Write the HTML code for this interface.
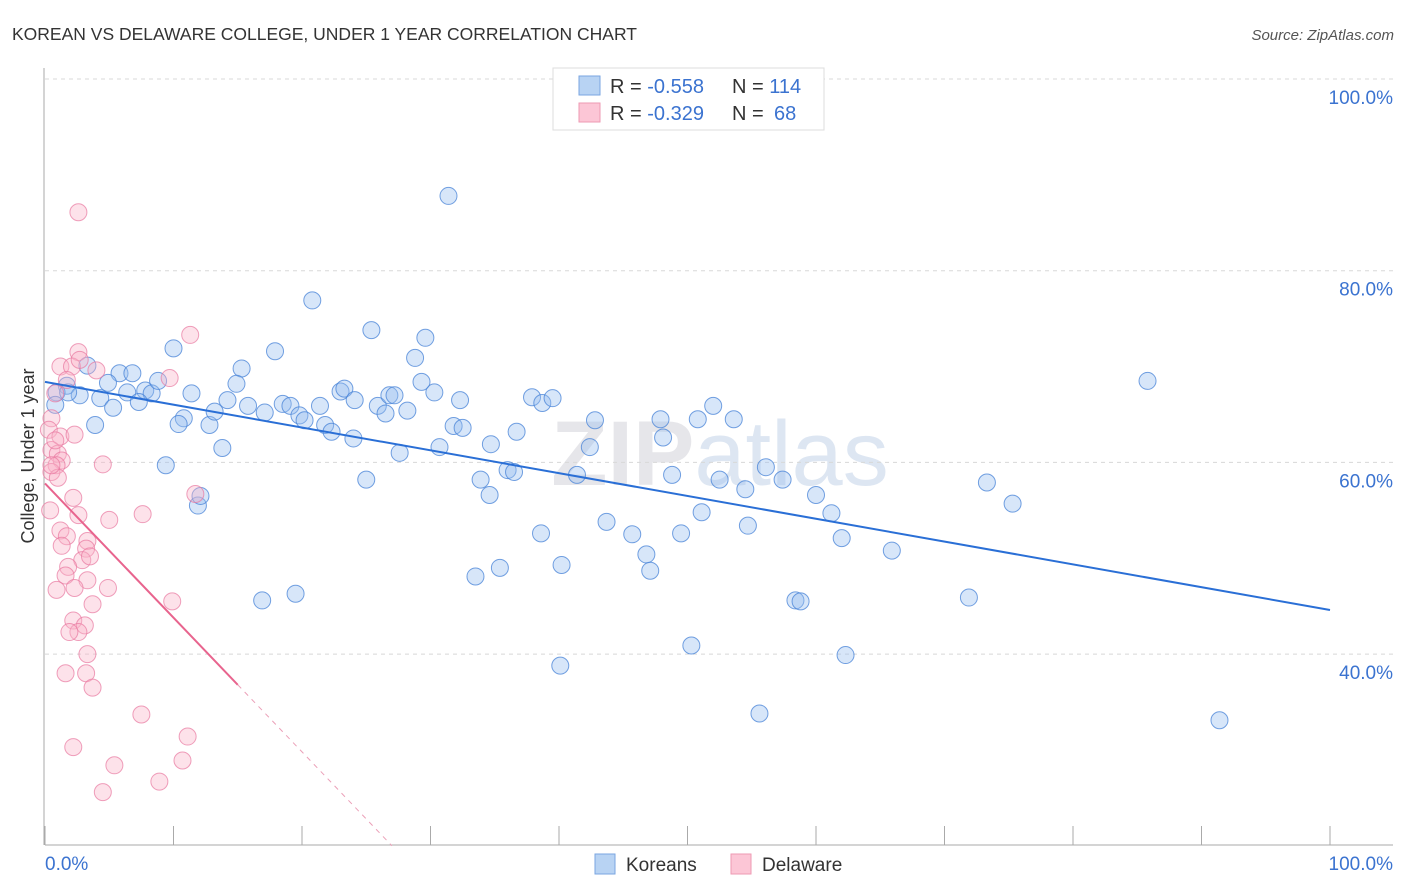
<!DOCTYPE html>
<html><head><meta charset="utf-8"><style>
body{margin:0;background:#fff;font-family:"Liberation Sans",sans-serif}
svg{display:block}
</style></head><body>
<svg id="chart" width="1406" height="892">
<text x="12" y="40" font-size="17.5" fill="#333">KOREAN VS DELAWARE COLLEGE, UNDER 1 YEAR CORRELATION CHART</text>
<text x="1394" y="40" font-size="15" fill="#555" font-style="italic" text-anchor="end">Source: ZipAtlas.com</text>
<text x="720" y="485" font-size="92" fill="#e6e6ea" text-anchor="middle" font-weight="bold">ZIP<tspan font-weight="normal" fill="#dde6f2">atlas</tspan></text>
<g id="grid"></g><g id="axes"></g><g id="pts"></g><g id="trend"></g>
<text transform="translate(34,456) rotate(-90)" font-size="18" fill="#333" text-anchor="middle">College, Under 1 year</text>
<g>
<rect x="553" y="68" width="271" height="62" fill="#fff" stroke="#ddd"/>
<rect x="579" y="76" width="21" height="19" fill="#b8d3f3" stroke="#7aa6e0"/>
<rect x="579" y="103" width="21" height="19" fill="#fcc6d6" stroke="#ee9ab3"/>
<text x="610" y="93" font-size="20" fill="#333">R = <tspan fill="#3b73d0">-0.558</tspan></text>
<text x="732" y="93" font-size="20" fill="#333">N = <tspan fill="#3b73d0">114</tspan></text>
<text x="610" y="120" font-size="20" fill="#333">R = <tspan fill="#3b73d0">-0.329</tspan></text>
<text x="732" y="120" font-size="20" fill="#333">N = <tspan fill="#3b73d0" x="774">68</tspan></text>
</g>
<g>
<rect x="595" y="854" width="20" height="20" fill="#b8d3f3" stroke="#7aa6e0"/>
<text x="626" y="871" font-size="19" fill="#333">Koreans</text>
<rect x="731" y="854" width="20" height="20" fill="#fcc6d6" stroke="#ee9ab3"/>
<text x="762" y="871" font-size="19" fill="#333">Delaware</text>
</g>
<text x="45" y="870" font-size="19" fill="#3b73d0">0.0%</text>
<text x="1393" y="870" font-size="19" fill="#3b73d0" text-anchor="end">100.0%</text>
</svg>
<script>
const yTicks=[100,80,60,40];
const yTickLabels=["100.0%","80.0%","60.0%","40.0%"];
const xTicks=[0,10,20,30,40,50,60,70,80,90,100];
const koreanX=[31.4,20.8,25.4,29.6,10.0,17.9,28.8,15.3,3.3,5.8,6.8,4.9,1.7,0.9,2.7,4.3,7.8,8.3,6.4,8.8,11.4,14.9,14.2,15.8,5.3,7.3,17.1,18.5,19.1,19.8,20.2,21.4,21.8,22.3,23.0,23.3,24.1,24.0,25.9,26.5,26.8,27.2,28.2,29.3,30.3,32.3,31.8,32.5,30.7,27.6,25.0,34.7,36.7,37.9,38.7,39.5,33.9,34.6,36.0,36.5,42.4,42.8,41.4,43.7,45.7,46.8,47.1,47.9,48.1,48.8,49.5,50.8,52.0,53.6,51.1,52.5,54.5,54.7,56.1,57.4,60.0,61.2,62.0,65.9,38.6,35.4,33.5,40.2,40.1,50.3,55.6,58.4,58.8,62.3,71.9,73.3,75.3,85.8,91.4,16.9,19.5,11.9,12.1,9.4,13.8,12.8,10.8,10.4,13.2,3.9,0.8,1.8];
const koreanY=[87.8,76.9,73.8,73.0,71.9,71.6,70.9,69.8,70.1,69.3,69.3,68.3,68.0,67.3,67.0,66.7,67.5,67.2,67.3,68.5,67.2,68.2,66.5,65.9,65.7,66.3,65.2,66.1,65.9,64.9,64.4,65.9,63.9,63.2,67.4,67.7,66.5,62.5,65.9,65.1,67.0,67.0,65.4,68.4,67.3,66.5,63.8,63.6,61.6,61.0,58.2,61.9,63.2,66.8,66.2,66.7,58.2,56.6,59.2,59.0,61.6,64.4,58.7,53.8,52.5,50.4,48.7,64.5,62.6,58.7,52.6,64.5,65.9,64.5,54.8,58.2,57.2,53.4,59.5,58.2,56.6,54.7,52.1,50.8,52.6,49.0,48.1,49.3,38.8,40.9,33.8,45.6,45.5,39.9,45.9,57.9,55.7,68.5,33.1,45.6,46.3,55.5,56.5,59.7,61.5,63.9,64.6,64.0,65.3,63.9,66.0,67.3];
const delawareX=[2.6,11.3,2.6,1.2,2.1,4.0,2.7,9.7,1.7,0.8,0.5,0.3,1.2,2.3,0.5,1.0,1.3,0.9,0.5,1.0,4.5,0.4,2.2,2.6,5.0,7.6,11.7,1.2,1.7,1.3,3.3,3.2,2.9,3.5,1.8,1.6,3.3,2.3,0.9,4.9,3.7,9.9,2.2,3.1,2.6,1.9,3.3,1.6,3.2,3.7,7.5,11.1,2.2,10.7,5.4,8.9,4.5,0.5,0.8];
const delawareY=[86.1,73.3,71.5,70.0,70.0,69.6,70.7,68.8,68.6,67.2,64.6,63.4,62.7,62.9,61.3,60.9,60.2,59.7,59.0,58.4,59.8,55.0,56.3,54.5,54.0,54.6,56.7,52.9,52.3,51.3,51.8,51.0,49.8,50.2,49.1,48.2,47.7,46.9,46.7,46.9,45.2,45.5,43.5,43.0,42.3,42.3,40.0,38.0,38.0,36.5,33.7,31.4,30.3,28.9,28.4,26.7,25.6,59.7,62.3];
const koreanTrend=[68.4,44.6];
const delawareTrend=[57.8,-82.2];
const delawareSolidEnd=15;
const NS="http://www.w3.org/2000/svg";
const X0=45,X1=1330,Y100=79,PX20=191.7;
function sx(v){return X0+(X1-X0)*v/100;}
function sy(v){return Y100+(100-v)*PX20/20;}
function mk(tag,attrs,parent){const e=document.createElementNS(NS,tag);for(const k in attrs)e.setAttribute(k,attrs[k]);parent.appendChild(e);return e;}
const grid=document.getElementById('grid'),axes=document.getElementById('axes'),pts=document.getElementById('pts'),trend=document.getElementById('trend');
yTicks.forEach((t,i)=>{
 const l=mk('line',{x1:45,x2:1393,y1:sy(t),y2:sy(t),stroke:'#d8d8d8','stroke-dasharray':'4,4'},grid);
 
 
 const tx=mk('text',{x:1393,y:sy(t)+25,'font-size':19,fill:'#3b73d0','text-anchor':'end'},grid);
 tx.textContent=yTickLabels[i];
 
 
});
const ax=mk('line',{x1:45,x2:1393,y1:845,y2:845,stroke:'#aaa'},axes);


const ay=mk('line',{x1:44,x2:44,y1:68,y2:845,stroke:'#aaa'},axes);


xTicks.forEach(t=>{
 const l=mk('line',{x1:sx(t),x2:sx(t),y1:826,y2:845,stroke:'#aaa'},axes);
 
 
});
koreanX.forEach((x,i)=>{
 const c=mk('circle',{cx:sx(x),cy:sy(koreanY[i]),r:8.5,fill:'rgba(150,190,240,0.38)',stroke:'rgba(70,130,215,0.75)','stroke-width':1},pts);
 
 
});
delawareX.forEach((x,i)=>{
 const c=mk('circle',{cx:sx(x),cy:sy(delawareY[i]),r:8.5,fill:'rgba(250,180,200,0.38)',stroke:'rgba(232,120,160,0.7)','stroke-width':1},pts);
 
 
});
const kt=mk('line',{x1:sx(0),y1:sy(koreanTrend[0]),x2:sx(100),y2:sy(koreanTrend[1]),stroke:'#2a6fd6','stroke-width':2},trend);


const slope=(delawareTrend[0]-delawareTrend[1])/100;
const dEnd=delawareTrend[0]-slope*delawareSolidEnd;
const xZero=(delawareTrend[0]-20)/slope;
const dt=mk('line',{x1:sx(0),y1:sy(delawareTrend[0]),x2:sx(delawareSolidEnd),y2:sy(dEnd),stroke:'#e8648e','stroke-width':2},trend);


const dd=mk('line',{x1:sx(delawareSolidEnd),y1:sy(dEnd),x2:sx(xZero),y2:sy(20),stroke:'#eba0b8','stroke-width':1,'stroke-dasharray':'5,5'},trend);


</script>
</body></html>
